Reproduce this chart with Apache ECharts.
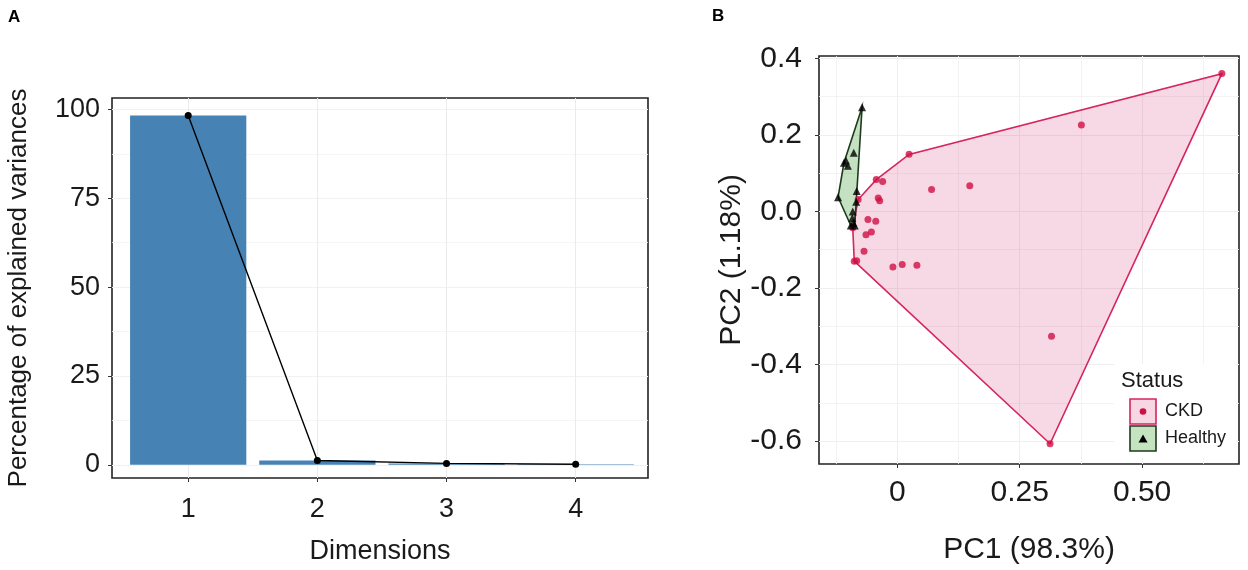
<!DOCTYPE html>
<html>
<head>
<meta charset="utf-8">
<script src="https://cdn.jsdelivr.net/npm/echarts@6/dist/echarts.min.js"></script>
<style>
  html, body { margin: 0; padding: 0; background: #fff; }
  #root { width: 1248px; height: 570px; }
</style>
</head>
<body>
<div id="root"></div>
<script>
// A: scree plot
const dims = [1, 2, 3, 4]
const variances = [98.3, 1.18, 0.38, 0.14]
const varTicks = [0, 25, 50, 75, 100]
const varMinor = [0, 12.5, 25, 37.5, 50, 62.5, 75, 87.5, 100]

// B: PCA scores
const pc1Ticks = [0, 0.25, 0.5]
const pc1Minor = [-0.125, 0, 0.125, 0.25, 0.375, 0.5, 0.625]
const pc2Ticks = [-0.6, -0.4, -0.2, 0, 0.2, 0.4]
const pc2Minor = [-0.6, -0.5, -0.4, -0.3, -0.2, -0.1, 0, 0.1, 0.2, 0.3, 0.4]

const ckd = [
  [0.663, 0.360], [0.376, 0.226], [0.024, 0.149], [-0.043, 0.083], [-0.030, 0.078],
  [0.070, 0.057], [0.148, 0.067], [-0.039, 0.035], [-0.036, 0.028], [-0.080, 0.031],
  [-0.091, -0.043], [-0.060, -0.021], [-0.044, -0.026], [-0.064, -0.061], [-0.053, -0.054],
  [-0.068, -0.104], [-0.088, -0.130], [-0.083, -0.129], [-0.009, -0.145], [0.010, -0.139],
  [0.040, -0.141], [0.315, -0.326], [0.312, -0.607]
]
const healthy = [
  [-0.072, 0.272], [-0.089, 0.153], [-0.109, 0.127], [-0.105, 0.133], [-0.101, 0.119],
  [-0.121, 0.037], [-0.083, 0.053], [-0.084, 0.025], [-0.091, 0.000], [-0.092, -0.017],
  [-0.095, -0.037], [-0.087, -0.037], [-0.090, -0.030]
]

const font = 'Liberation Sans, Arial, sans-serif'
const ink = '#1a1a1a'

// 凸包 (monotone chain)
function convexHull(pts) {
  const p = pts.slice().sort((a, b) => a[0] - b[0] || a[1] - b[1])
  const cross = (o, a, b) => (a[0] - o[0]) * (b[1] - o[1]) - (a[1] - o[1]) * (b[0] - o[0])
  const lower = [], upper = []
  for (const q of p) {
    while (lower.length >= 2 && cross(lower[lower.length - 2], lower[lower.length - 1], q) <= 0) lower.pop()
    lower.push(q)
  }
  for (let i = p.length - 1; i >= 0; i--) {
    const q = p[i]
    while (upper.length >= 2 && cross(upper[upper.length - 2], upper[upper.length - 1], q) <= 0) upper.pop()
    upper.push(q)
  }
  upper.pop(); lower.pop()
  return lower.concat(upper)
}

function hullSeries(points, fill, stroke, z) {
  const hull = convexHull(points)
  return {
    type: 'custom', xAxisIndex: 1, yAxisIndex: 2, z: z, silent: true,
    data: hull,
    renderItem: function (params, api) {
      if (params.dataIndex !== 0) return null
      return {
        type: 'polygon',
        shape: { points: hull.map(p => api.coord(p)) },
        style: { fill: fill, stroke: stroke, lineWidth: 1.6 }
      }
    }
  }
}

const tickStyle = { show: true, length: 4, lineStyle: { color: '#333', width: 1 } }
const gridLine = (c, w) => ({ show: true, lineStyle: { color: c, width: w } })
const noLine = { show: false, onZero: false }
const hidden = { axisLine: noLine, axisLabel: { show: false } }

let myChart = echarts.init(document.querySelector('#root'))

let option = {
  animation: false,
  backgroundColor: '#fff',
  title: [
    { text: 'A', left: 8, top: 9, padding: 0, textStyle: { fontSize: 17, fontWeight: 'bold', color: '#000', fontFamily: font } },
    { text: 'B', left: 712, top: 8, padding: 0, textStyle: { fontSize: 17, fontWeight: 'bold', color: '#000', fontFamily: font } }
  ],
  grid: [
    { left: 112, top: 98, width: 536, height: 385, show: true, borderColor: '#222', borderWidth: 1.6, backgroundColor: '#fff' },
    { left: 819, top: 56, width: 420, height: 417, show: true, borderColor: '#222', borderWidth: 1.6, backgroundColor: '#fff' }
  ],
  xAxis: [
    {
      type: 'value', gridIndex: 0, min: 0.41, max: 4.56, position: 'bottom',
      name: 'Dimensions', nameLocation: 'middle', nameGap: 60,
      nameTextStyle: { fontSize: 27, color: ink, fontFamily: font },
      axisLine: noLine,
      axisTick: Object.assign({ customValues: dims }, tickStyle),
      axisLabel: { customValues: dims, fontSize: 27, color: ink, fontFamily: font, margin: 18 },
      splitLine: gridLine('#ebebeb', 1)
    },
    {
      type: 'value', gridIndex: 1, min: -0.16, max: 0.698, position: 'bottom',
      name: 'PC1 (98.3%)', nameLocation: 'middle', nameGap: 71,
      nameTextStyle: { fontSize: 30, color: ink, fontFamily: font },
      axisLine: noLine,
      axisTick: Object.assign({ customValues: pc1Ticks }, tickStyle),
      axisLabel: {
        customValues: pc1Ticks, fontSize: 30, color: ink, fontFamily: font, margin: 14,
        formatter: v => (v === 0 ? '0' : v.toFixed(2))
      },
      splitLine: gridLine('#ebebeb', 1)
    },
    Object.assign({
      type: 'value', gridIndex: 1, min: -0.16, max: 0.698, position: 'bottom',
      splitLine: gridLine('#f0f0f0', 0.8)
    }, hidden, { axisTick: { show: false, customValues: pc1Minor } })
  ],
  yAxis: [
    {
      type: 'value', gridIndex: 0, min: -3.73, max: 103.25, position: 'left',
      name: 'Percentage of explained variances', nameLocation: 'middle', nameGap: 80,
      nameTextStyle: { fontSize: 26, color: ink, fontFamily: font },
      axisLine: noLine,
      axisTick: Object.assign({ customValues: varTicks }, tickStyle),
      axisLabel: { customValues: varTicks, fontSize: 27, color: ink, fontFamily: font, margin: 12 },
      splitLine: gridLine('#ebebeb', 1)
    },
    Object.assign({
      type: 'value', gridIndex: 0, min: -3.73, max: 103.25, position: 'left',
      splitLine: gridLine('#f2f2f2', 0.8)
    }, hidden, { axisTick: { show: false, customValues: varMinor } }),
    {
      type: 'value', gridIndex: 1, min: -0.66, max: 0.406, position: 'left',
      name: 'PC2 (1.18%)', nameLocation: 'middle', nameGap: 71,
      nameTextStyle: { fontSize: 30, color: ink, fontFamily: font },
      axisLine: noLine,
      axisTick: Object.assign({ customValues: pc2Ticks }, tickStyle),
      axisLabel: {
        customValues: pc2Ticks, fontSize: 30, color: ink, fontFamily: font, margin: 17,
        formatter: v => v.toFixed(1)
      },
      splitLine: gridLine('#ebebeb', 1)
    },
    Object.assign({
      type: 'value', gridIndex: 1, min: -0.66, max: 0.406, position: 'left',
      splitLine: gridLine('#f0f0f0', 0.8)
    }, hidden, { axisTick: { show: false, customValues: pc2Minor } })
  ],
  series: [
    {
      type: 'bar', xAxisIndex: 0, yAxisIndex: 0, barWidth: '90%',
      data: dims.map((d, i) => [d, variances[i]]),
      itemStyle: { color: '#4682B4' }, z: 2
    },
    {
      type: 'line', xAxisIndex: 0, yAxisIndex: 0,
      data: dims.map((d, i) => [d, variances[i]]),
      symbol: 'circle', symbolSize: 7,
      lineStyle: { color: '#000', width: 1.4 },
      itemStyle: { color: '#000' }, z: 3
    },
    hullSeries(ckd, 'rgba(210,30,100,0.17)', '#d6245e', 2),
    hullSeries(healthy, 'rgba(60,160,50,0.30)', '#1e3b1e', 3),
    {
      type: 'scatter', xAxisIndex: 1, yAxisIndex: 2, data: ckd,
      symbol: 'circle', symbolSize: 7, itemStyle: { color: '#cf0f45' }, z: 4
    },
    {
      type: 'scatter', xAxisIndex: 1, yAxisIndex: 2, data: healthy,
      symbol: 'triangle', symbolSize: 8, itemStyle: { color: '#000' }, z: 5
    }
  ],
  // legend "Status" — 白底盖住网格线
  graphic: [
    { type: 'rect', z: 100, shape: { x: 1114, y: 364, width: 122, height: 94 }, style: { fill: '#fff' } },
    { type: 'text', z: 101, x: 1121, y: 370, style: { text: 'Status', fontSize: 22, fill: ink, fontFamily: font } },
    { type: 'rect', z: 101, shape: { x: 1130, y: 399, width: 26, height: 25 }, style: { fill: '#f6d7e3', stroke: '#d6245e', lineWidth: 1.6 } },
    { type: 'circle', z: 102, shape: { cx: 1143, cy: 411.5, r: 3.3 }, style: { fill: '#cf0f45' } },
    { type: 'text', z: 101, x: 1165, y: 402, style: { text: 'CKD', fontSize: 18, fill: ink, fontFamily: font } },
    { type: 'rect', z: 101, shape: { x: 1130, y: 426, width: 26, height: 25 }, style: { fill: '#c5e2c1', stroke: '#1e3b1e', lineWidth: 1.6 } },
    { type: 'polygon', z: 102, shape: { points: [[1143, 434.5], [1138.5, 442.5], [1147.5, 442.5]] }, style: { fill: '#000' } },
    { type: 'text', z: 101, x: 1165, y: 429, style: { text: 'Healthy', fontSize: 18, fill: ink, fontFamily: font } }
  ]
}

myChart.setOption(option)
</script>
</body>
</html>
